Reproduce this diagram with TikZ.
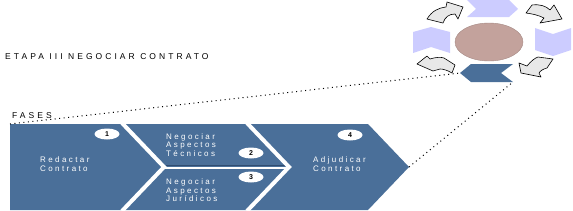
\documentclass[tikz,border=0pt]{standalone}
\usepackage{fontspec}
\setmainfont{Liberation Sans}
\newfontfamily\spacedfont[LetterSpace=30]{Liberation Sans}
\newfontfamily\headfont[LetterSpace=36]{Liberation Sans}
\usetikzlibrary{shapes.geometric}
\definecolor{phaseblue}{HTML}{4A6F99}
\definecolor{phasedark}{HTML}{2F4C70}
\definecolor{lavender}{HTML}{CCCCFF}
\definecolor{rosy}{HTML}{C3A29C}
\definecolor{arrowgray}{HTML}{E8E8E8}
\begin{document}
\begin{tikzpicture}[x=1pt,y=-1pt,
  phase/.style={fill=phaseblue},
  sep/.style={draw=white,line width=4pt,line join=miter},
  badge/.style={ellipse,fill=white,minimum width=25pt,minimum height=11pt,inner sep=0pt,
    font=\fontsize{7}{7}\selectfont\bfseries,text=black},
  lbl/.style={text=white,align=left,inner sep=0pt,anchor=north west,
    font=\spacedfont\fontsize{8}{8.6}\selectfont},
  heading/.style={inner sep=0pt,anchor=west,font=\headfont\fontsize{8.5}{9}\selectfont},
  dots/.style={dash pattern=on 1pt off 3.5pt,line width=1pt},
  cycarrow/.style={fill=arrowgray,draw=black,line width=0.6pt,line join=round},
  chev/.style={fill=lavender}]
\useasboundingbox (0,0) rectangle (573,210);

% ---------- phases ----------
\coordinate (Atl) at (10,124);
\coordinate (Ctip) at (409,167);
\fill[phase] (Atl) -- (122,124) -- (164,167) -- (122,210) -- (10,210) -- cycle;
\fill[phase] (122,124) -- (247,124) -- (289,167) -- (164,167) -- cycle;
\fill[phase] (164,167) -- (289,167) -- (247,210) -- (122,210) -- cycle;
\fill[phase] (247,124) -- (368,124) -- (Ctip) -- (368,210) -- (247,210) -- (289,167) -- cycle;
\draw[phasedark,line width=1pt] (166,165.3) -- (286,165.3);
\draw[sep] (122,123) -- (164,167) -- (122,211);
\draw[sep] (247,123) -- (289,167) -- (247,211);
\draw[draw=white,line width=2pt] (164,167.5) -- (288,167.5);

\node[lbl] (redactar) at (40,156.5) {Redactar\\Contrato};
\node[lbl] (tecnicos) at (166,133) {Negociar\\Aspectos\\Técnicos};
\node[lbl] (juridicos) at (166,178.5) {Negociar\\Aspectos\\Jurídicos};
\node[lbl] (adjudicar) at (313,156.5) {Adjudicar\\Contrato};

\node[badge] (b1) at (107,134) {1};
\node[badge] (b2) at (251,153) {2};
\node[badge] (b3) at (251,177) {3};
\node[badge] (b4) at (350,135) {4};

% ---------- headings ----------
\node[heading] (title) at (5,57) {ETAPA III NEGOCIAR CONTRATO};
\node[heading] (fases) at (12,116) {FASES};

% ---------- cycle ----------
\node[ellipse,fill=rosy,draw=rosy!85!black,line width=0.4pt,minimum width=68pt,minimum height=38pt,inner sep=0pt] (core) at (489,42) {};
\fill[chev] (467,0) -- (509,0) -- (518,9) -- (509,17) -- (467,17) -- (476,9) -- cycle;
\fill[chev] (535,28) -- (553,34) -- (571,28) -- (571,50) -- (553,56) -- (535,50) -- cycle;
\fill[chev] (413,32) -- (431,27) -- (450,32) -- (450,53) -- (431,47) -- (413,53) -- cycle;
\coordinate (Dtip) at (460,73);
\coordinate (Dbr) at (513,82);
\fill[phase] (Dtip) -- (471,64) -- (513,64) -- (501,73) -- (Dbr) -- (471,82) -- cycle;

\draw[cycarrow] (427,19) .. controls (432,11) and (438,8) .. (446,7) -- (447,2) -- (463,7) -- (458,19) -- (455,14) .. controls (449,14) and (445,17) .. (443,23) -- cycle;
\draw[cycarrow] (526,13) -- (532,5) .. controls (540,4) and (546,6) .. (550,10) -- (554,5) -- (562,19) -- (540,23) -- (544,18) .. controls (538,15) and (533,14) .. (526,13) -- cycle;
\draw[cycarrow] (553,59) -- (547,68) .. controls (543,69) and (540,71) .. (539,73) -- (541,77) -- (521,73) -- (519,63) -- (527,66) .. controls (531,61) and (535,58) .. (538,57) -- cycle;
\draw[cycarrow] (417,64) -- (427,56) -- (430,59) .. controls (436,57) and (441,57) .. (444,58) -- (455,65) -- (452,73) .. controls (447,70) and (443,69) .. (440,69) -- (433,71) -- cycle;

% ---------- zoom lines ----------
\draw[dots] (Atl) -- (Dtip);
\draw[dots] (Ctip) -- (Dbr);
\end{tikzpicture}
\end{document}
